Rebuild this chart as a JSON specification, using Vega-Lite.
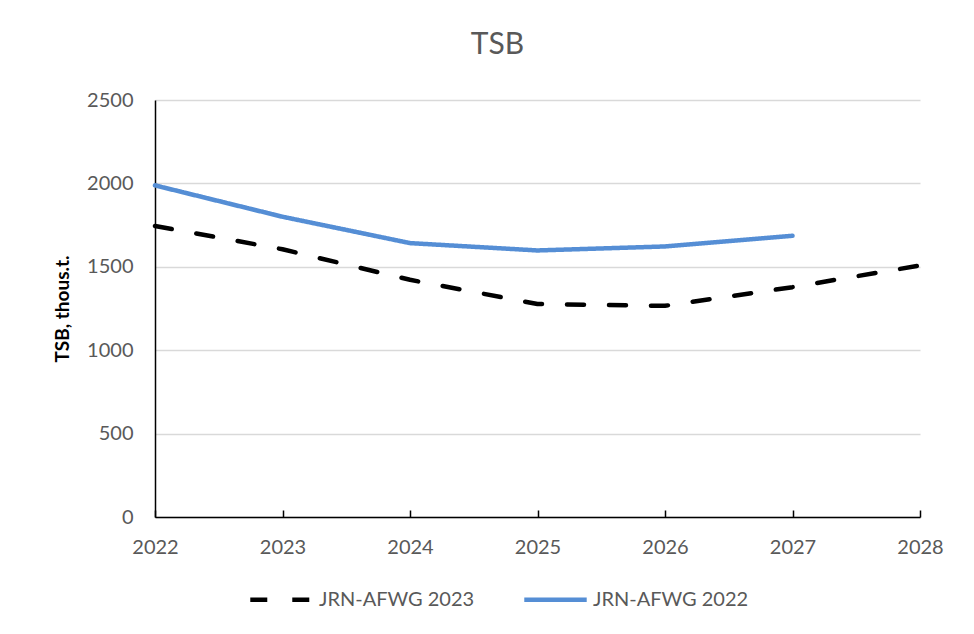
{
  "$schema": "https://vega.github.io/schema/vega-lite/v6.json",
  "width": 765,
  "height": 417,
  "autosize": {"type": "none"},
  "padding": {"left": 155, "top": 100, "right": 54, "bottom": 117},
  "background": "white",
  "title": {
    "text": "TSB",
    "font": "Lato",
    "fontSize": 30,
    "fontWeight": "normal",
    "color": "#595959",
    "anchor": "middle",
    "dx": -40,
    "offset": 30
  },
  "data": {
    "values": [
      {"year": 2022, "tsb": 1745, "series": "JRN-AFWG 2023"},
      {"year": 2023, "tsb": 1605, "series": "JRN-AFWG 2023"},
      {"year": 2024, "tsb": 1422, "series": "JRN-AFWG 2023"},
      {"year": 2025, "tsb": 1277, "series": "JRN-AFWG 2023"},
      {"year": 2026, "tsb": 1266, "series": "JRN-AFWG 2023"},
      {"year": 2027, "tsb": 1378, "series": "JRN-AFWG 2023"},
      {"year": 2028, "tsb": 1508, "series": "JRN-AFWG 2023"},
      {"year": 2022, "tsb": 1988, "series": "JRN-AFWG 2022"},
      {"year": 2023, "tsb": 1800, "series": "JRN-AFWG 2022"},
      {"year": 2024, "tsb": 1642, "series": "JRN-AFWG 2022"},
      {"year": 2025, "tsb": 1598, "series": "JRN-AFWG 2022"},
      {"year": 2026, "tsb": 1622, "series": "JRN-AFWG 2022"},
      {"year": 2027, "tsb": 1686, "series": "JRN-AFWG 2022"}
    ]
  },
  "mark": {"type": "line", "strokeWidth": 4.5, "strokeCap": "round", "strokeJoin": "round"},
  "encoding": {
    "x": {
      "field": "year",
      "type": "quantitative",
      "scale": {"domain": [2022, 2028], "nice": false, "zero": false},
      "axis": {
        "values": [2022, 2023, 2024, 2025, 2026, 2027, 2028],
        "format": "d",
        "title": null,
        "grid": false,
        "domainColor": "#000000",
        "domainWidth": 1.5,
        "ticks": true,
        "tickColor": "#000000",
        "tickWidth": 1.5,
        "tickSize": -7,
        "labelPadding": 27,
        "labelFont": "Lato",
        "labelFontSize": 20,
        "labelColor": "#595959",
        "labelFlush": false,
        "labelOverlap": false
      }
    },
    "y": {
      "field": "tsb",
      "type": "quantitative",
      "scale": {"domain": [0, 2500], "nice": false},
      "axis": {
        "values": [0, 500, 1000, 1500, 2000, 2500],
        "format": "d",
        "title": "TSB, thous.t.",
        "titleFont": "Lato",
        "titleFontSize": 19,
        "titleFontWeight": "bold",
        "titleColor": "#000000",
        "titlePadding": 14,
        "grid": true,
        "gridColor": "#D9D9D9",
        "gridWidth": 1.5,
        "domainColor": "#000000",
        "domainWidth": 1.5,
        "ticks": false,
        "labelPadding": 22,
        "labelFont": "Lato",
        "labelFontSize": 20,
        "labelColor": "#595959"
      }
    },
    "color": {
      "field": "series",
      "type": "nominal",
      "scale": {"domain": ["JRN-AFWG 2023", "JRN-AFWG 2022"], "range": ["#000000", "#558ED5"]},
      "legend": {
        "title": null,
        "orient": "none",
        "direction": "horizontal",
        "legendX": 93,
        "legendY": 466,
        "symbolType": "stroke",
        "symbolSize": 3900,
        "symbolStrokeWidth": 4.5,
        "labelFont": "Lato",
        "labelFontSize": 20,
        "labelColor": "#595959",
        "labelOffset": 4,
        "columnPadding": 40,
        "labelLimit": 300
      }
    },
    "strokeDash": {
      "field": "series",
      "type": "nominal",
      "scale": {"domain": ["JRN-AFWG 2023", "JRN-AFWG 2022"], "range": [[17, 25], [1, 0]]},
      "legend": null
    }
  },
  "config": {"view": {"stroke": null}}
}
